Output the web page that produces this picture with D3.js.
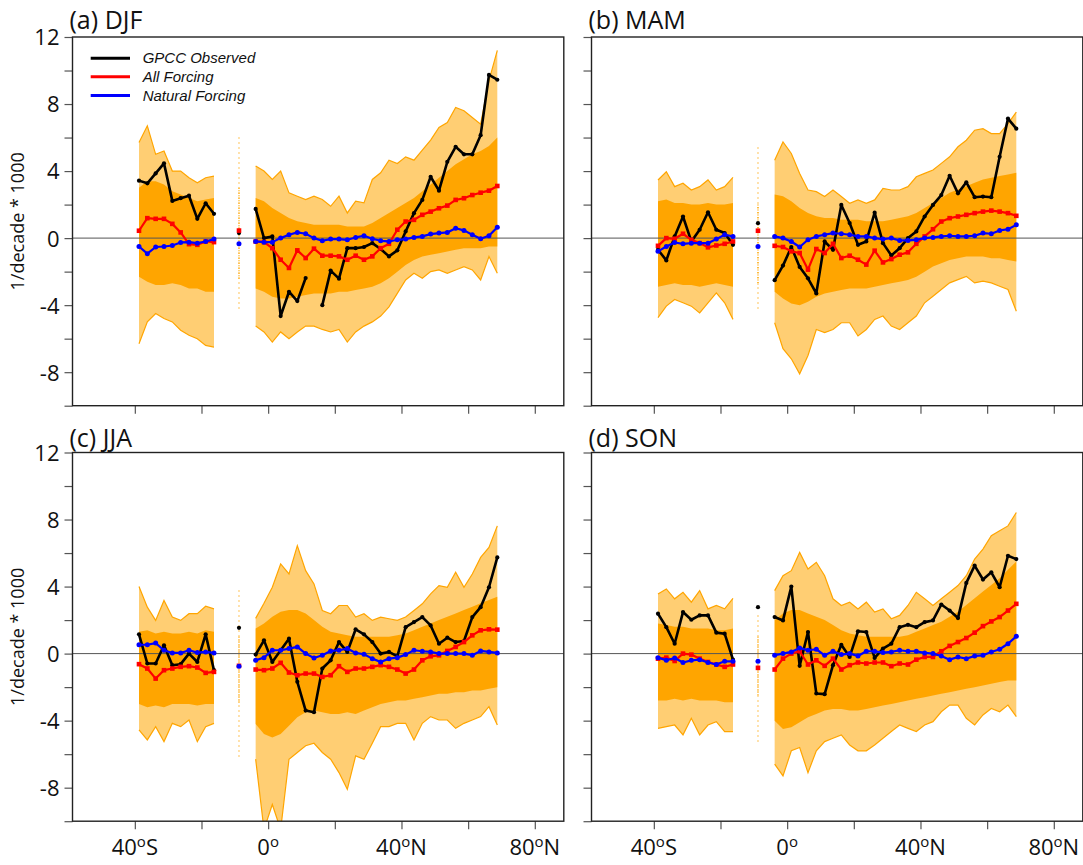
<!DOCTYPE html>
<html><head><meta charset="utf-8">
<script src="https://cdn.jsdelivr.net/npm/d3@7"></script>
<style>body{margin:0;background:#fff}svg{display:block}</style>
</head><body>
<svg id="c" width="1083" height="865"></svg>
<script>
// ---------------- DATA ----------------
// latitude categories: 10 southern points, 1 isolated point, 30 northern points
const latitudes = [-38.75,-36.25,-33.75,-31.25,-28.75,-26.25,-23.75,-21.25,-18.75,-16.25,
  -8.75,
  -3.75,-1.25,1.25,3.75,6.25,8.75,11.25,13.75,16.25,18.75,21.25,23.75,26.25,28.75,31.25,33.75,36.25,38.75,41.25,43.75,46.25,48.75,51.25,53.75,56.25,58.75,61.25,63.75,66.25,68.75];
const yTicks = [-10,-8,-6,-4,-2,0,2,4,6,8,10,12];
const yLabels = [-8,-4,0,4,8,12];
const xTicks = [-40,-20,0,20,40,60,80];
const xLabels = [[-40,"40","S"],[0,"0",""],[40,"40","N"],[80,"80","N"]];
const seasons = ["(a) DJF","(b) MAM","(c) JJA","(d) SON"];
const legendNames = ["GPCC Observed","All Forcing","Natural Forcing"];

// GPCC observed (black)
const obsDJF = [3.43,3.27,3.86,4.46,2.22,2.38,2.53,1.15,2.08,1.45, 0.3,
  1.74,0.0,0.1,-4.65,-3.2,-3.76,-2.38,null,-4.0,-1.94,-2.42,-0.6,-0.6,-0.53,-0.3,-0.65,-1.09,-0.73,0.4,1.49,2.28,3.66,2.83,4.55,5.45,5.0,5.0,6.14,9.74,9.45];
const obsMAM = [-0.69,-1.33,0.1,1.29,-0.2,0.5,1.54,0.5,0.3,-0.4, 0.89,
  -2.51,-1.64,-0.53,-1.72,-2.4,-3.3,-0.2,-0.7,1.98,0.9,-0.4,-0.2,1.52,-0.3,-1.03,-0.6,0.0,0.4,1.29,1.98,2.57,3.72,2.67,3.33,2.44,2.48,2.44,4.85,7.13,6.53];
const obsJJA = [1.15,-0.59,-0.59,0.5,-0.69,-0.63,0.0,-0.5,1.15,-0.99, 1.54,
  -0.06,0.79,-0.5,0.2,0.89,-1.68,-3.4,-3.5,-0.89,-0.4,0.69,0.1,1.45,1.15,0.69,0.0,0.1,-0.16,1.58,1.88,2.18,1.68,0.59,0.95,0.69,0.75,2.18,2.77,3.96,5.74];
const obsSON = [2.38,1.58,0.59,2.48,2.02,2.28,2.28,1.25,1.19,-0.36, 2.77,
  2.18,1.98,4.0,-0.73,1.29,-2.38,-2.42,-0.69,0.53,-0.2,1.33,1.29,-0.26,0.3,0.59,1.58,1.72,1.58,1.88,1.98,2.93,2.57,2.12,4.22,5.25,4.42,4.85,3.96,5.84,5.64];

// All forcing mean (red)
const allDJF = [0.44,1.19,1.15,1.15,0.85,0.34,-0.36,-0.4,-0.2,-0.24, 0.45,
  -0.2,-0.24,-0.6,-1.29,-1.78,-0.73,-1.19,-0.63,-1.05,-1.05,-1.09,-1.29,-1.05,-1.29,-1.09,-0.6,-0.34,0.5,0.99,1.09,1.39,1.58,1.78,1.94,2.28,2.38,2.57,2.71,2.83,3.11];
const allMAM = [-0.46,0.0,-0.04,0.26,-0.1,-0.3,-0.55,-0.44,-0.34,-0.2, 0.44,
  -0.46,-0.53,-0.79,-0.89,-1.88,-0.65,-0.89,-0.34,-1.19,-1.05,-1.29,-1.58,-0.75,-1.45,-1.25,-0.99,-0.85,-0.34,0.1,0.53,0.99,1.19,1.29,1.39,1.49,1.58,1.64,1.58,1.49,1.33];
const allJJA = [-0.63,-0.89,-1.49,-0.99,-0.89,-0.79,-0.75,-0.83,-1.15,-1.09, -0.73,
  -0.95,-0.99,-0.89,-0.55,-1.13,-1.29,-1.19,-1.19,-1.39,-1.29,-0.75,-1.09,-0.89,-0.89,-0.79,-0.69,-0.79,-0.95,-1.19,-0.95,-0.4,-0.16,-0.1,0.16,0.4,0.69,1.09,1.39,1.45,1.43];
const allSON = [-0.3,-0.24,-0.44,0.0,-0.06,-0.3,-0.5,-0.65,-0.79,-0.65, -0.85,
  -0.95,-0.3,0.0,0.14,-0.65,-0.4,-0.73,-0.3,-0.95,-0.69,-0.53,-0.59,-0.53,-0.53,-0.75,-0.59,-0.65,-0.36,-0.2,-0.2,0.14,0.46,0.69,0.93,1.25,1.64,1.92,2.18,2.57,2.97];

// Natural forcing mean (blue)
const natDJF = [-0.5,-0.93,-0.53,-0.5,-0.44,-0.26,-0.24,-0.3,-0.2,-0.06, -0.34,
  -0.2,-0.24,-0.24,0.0,0.2,0.34,0.26,0.0,-0.16,-0.06,-0.06,-0.1,0.04,0.14,-0.04,-0.16,-0.2,-0.1,-0.06,0.04,0.1,0.24,0.3,0.34,0.59,0.46,0.2,-0.04,0.14,0.65];
const natMAM = [-0.79,-0.5,-0.26,-0.34,-0.3,-0.3,-0.3,-0.06,0.2,0.1, -0.5,
  0.1,0.0,-0.2,-0.53,-0.1,0.1,0.2,0.3,0.26,0.2,0.1,0.1,0.0,-0.06,0.0,-0.14,-0.14,-0.1,0.0,0.04,0.1,0.14,0.1,0.1,0.14,0.3,0.26,0.46,0.53,0.79];
const natJJA = [0.53,0.53,0.63,0.2,0.04,0.04,0.2,0.06,0.1,0.04, -0.75,
  -0.4,-0.24,0.2,0.2,0.3,0.4,0.0,-0.26,-0.1,0.16,0.2,0.3,0.04,-0.04,-0.3,-0.5,-0.3,-0.24,-0.06,0.2,0.14,0.1,0.0,0.0,0.0,0.0,-0.1,0.16,0.1,0.04];
const natSON = [-0.24,-0.4,-0.26,-0.53,-0.4,-0.36,-0.53,-0.65,-0.46,-0.46, -0.46,
  -0.1,0.0,0.1,0.34,0.2,0.26,-0.1,0.14,-0.06,0.0,-0.14,0.14,0.14,0.06,0.1,0.2,0.14,0.14,0.04,0.0,-0.14,-0.36,-0.2,-0.3,-0.14,-0.1,0.1,0.26,0.59,1.03];

// Ensemble members (orange): outer maximum / minimum of the member lines
const maxDJF = [5.7,6.7,5.0,5.2,4.0,4.0,3.6,3.3,3.6,3.7, 6.0,
  4.3,4.0,3.5,4.0,2.7,2.5,2.3,2.5,2.3,1.9,2.5,1.5,2.2,2.1,3.5,3.9,4.65,4.45,4.85,4.65,5.25,5.85,6.6,6.9,7.8,7.6,7.2,6.8,9.4,11.2];
const minDJF = [-6.3,-5.0,-4.5,-4.8,-5.0,-5.5,-5.8,-6.0,-6.4,-6.5, -4.3,
  -5.25,-5.6,-6.2,-5.6,-6.0,-5.6,-5.25,-5.25,-5.45,-5.6,-5.45,-6.2,-5.6,-5.25,-5.0,-4.65,-4.1,-3.3,-2.5,-2.1,-2.4,-2.0,-1.9,-2.1,-1.9,-1.7,-1.9,-2.5,-1.1,-2.1];
const maxMAM = [3.47,3.96,3.07,3.27,2.87,3.07,3.47,2.87,3.07,3.62, 5.4,
  4.65,5.74,5.05,3.86,2.87,2.77,2.48,2.87,2.48,2.08,2.28,2.08,2.28,2.97,2.87,2.87,3.07,3.66,3.86,4.06,4.46,4.85,5.45,5.84,6.44,6.53,6.24,6.24,6.83,7.52];
const minMAM = [-4.75,-4.06,-3.66,-3.86,-4.06,-4.46,-3.86,-3.27,-3.86,-4.85, -4.3,
  -5.05,-6.6,-7.2,-8.1,-7.0,-5.45,-5.64,-5.45,-5.05,-5.05,-5.84,-5.45,-4.85,-4.65,-5.25,-5.45,-5.05,-4.65,-3.86,-3.47,-3.07,-2.67,-2.48,-2.28,-2.67,-2.57,-2.67,-2.87,-3.07,-4.36];
const maxJJA = [4.0,2.77,1.98,3.17,2.18,1.98,2.38,2.38,2.83,2.67, 3.76,
  2.1,3.0,3.96,5.35,4.75,6.44,4.95,4.16,2.57,2.38,2.87,2.87,2.18,2.38,1.98,2.18,2.08,1.98,2.18,2.57,2.97,3.56,4.06,3.96,4.85,3.96,4.75,5.74,6.34,7.62];
const minJJA = [-4.55,-5.15,-4.36,-5.25,-4.16,-4.36,-3.96,-5.25,-4.36,-4.16, -6.24,
  -6.3,-10.5,-9.0,-10.5,-6.3,-5.9,-5.5,-5.35,-5.9,-6.3,-7.1,-8.1,-6.1,-6.3,-5.35,-4.36,-4.36,-4.16,-4.16,-5.15,-4.16,-3.76,-3.96,-3.96,-4.46,-4.16,-3.96,-3.76,-3.17,-4.26];
const maxSON = [3.56,3.86,3.27,3.66,3.07,3.76,2.67,2.87,2.67,3.3, 2.28,
  3.76,4.65,4.95,6.04,5.05,5.45,4.65,3.27,2.87,3.07,2.67,3.07,2.48,2.67,2.08,2.28,2.87,3.66,3.27,2.87,3.27,3.66,4.06,4.65,5.64,6.24,7.03,7.33,7.62,8.42];
const minSON = [-4.46,-4.36,-4.26,-4.85,-3.86,-4.85,-4.26,-4.06,-4.65,-4.65, -5.45,
  -6.6,-7.3,-5.8,-5.6,-7.1,-5.8,-5.25,-5.05,-4.85,-5.45,-5.8,-5.8,-5.45,-5.05,-4.65,-4.26,-4.46,-4.65,-4.26,-4.06,-3.47,-3.07,-3.07,-3.86,-4.26,-3.66,-3.27,-3.47,-3.07,-3.76];

// Ensemble members (orange): edges of the dense core where the member lines overlap
const coreHiDJF = [3.0,3.4,3.4,3.2,2.8,2.6,2.4,2.2,2.3,2.4, 3.0,
  2.4,2.2,1.8,1.5,1.2,1.0,0.9,0.8,0.8,0.8,0.8,0.7,0.7,0.7,0.9,1.2,1.5,1.8,2.1,2.4,2.8,3.2,3.6,4.0,4.4,4.7,5.0,5.2,5.5,6.0];
const coreLoDJF = [-2.3,-2.6,-2.8,-2.8,-2.7,-2.8,-3.0,-3.0,-3.2,-3.2, -2.5,
  -3.0,-3.2,-3.5,-3.6,-3.6,-3.5,-3.4,-3.3,-3.3,-3.3,-3.2,-3.2,-3.1,-3.0,-2.9,-2.7,-2.4,-2.0,-1.6,-1.3,-1.1,-1.0,-0.9,-0.8,-0.7,-0.6,-0.6,-0.6,-0.5,-0.5];
const coreHiMAM = [2.2,2.3,2.1,2.1,2.0,2.0,2.1,2.0,2.0,2.1, 2.0,
  2.6,2.5,2.2,1.8,1.5,1.3,1.2,1.2,1.1,1.1,1.1,1.0,1.0,1.0,1.1,1.2,1.3,1.5,1.8,2.1,2.4,2.7,2.9,3.1,3.3,3.5,3.6,3.7,3.8,3.9];
const coreLoMAM = [-2.9,-2.8,-2.7,-2.8,-2.8,-2.9,-2.8,-2.7,-2.8,-2.9, -2.8,
  -3.2,-3.6,-3.9,-4.0,-3.8,-3.5,-3.3,-3.2,-3.1,-3.0,-3.0,-3.0,-2.9,-2.8,-2.7,-2.6,-2.5,-2.3,-2.0,-1.7,-1.5,-1.3,-1.2,-1.1,-1.1,-1.1,-1.2,-1.2,-1.3,-1.4];
const coreHiJJA = [1.3,1.4,1.2,1.3,1.2,1.2,1.3,1.2,1.4,1.3, 1.0,
  1.5,1.8,2.2,2.5,2.6,2.6,2.4,2.0,1.6,1.3,1.2,1.1,1.0,1.0,1.0,1.0,1.0,1.1,1.2,1.4,1.6,1.8,2.0,2.2,2.4,2.6,2.8,3.0,3.2,3.4];
const coreLoJJA = [-3.0,-3.2,-3.1,-3.2,-3.0,-3.0,-3.0,-3.1,-3.0,-3.0, -3.0,
  -4.2,-4.8,-5.0,-4.8,-4.3,-3.8,-3.5,-3.4,-3.5,-3.6,-3.6,-3.5,-3.6,-3.4,-3.2,-3.0,-2.9,-2.8,-2.8,-2.7,-2.6,-2.5,-2.4,-2.4,-2.3,-2.3,-2.2,-2.2,-2.1,-2.0];
const coreHiSON = [1.8,1.7,1.6,1.6,1.5,1.5,1.5,1.4,1.4,1.5, 1.0,
  2.0,2.4,2.6,2.6,2.4,2.2,2.0,1.7,1.4,1.2,1.1,1.0,1.0,1.0,1.0,1.0,1.1,1.3,1.5,1.7,1.9,2.2,2.5,2.9,3.3,3.7,4.1,4.5,5.0,5.5];
const coreLoSON = [-2.8,-2.8,-2.7,-2.8,-2.7,-2.8,-2.8,-2.8,-2.9,-2.9, -2.5,
  -4.0,-4.5,-4.4,-4.1,-3.8,-3.6,-3.4,-3.3,-3.3,-3.4,-3.4,-3.3,-3.2,-3.1,-3.0,-2.9,-2.8,-2.7,-2.6,-2.5,-2.4,-2.3,-2.2,-2.1,-2.0,-1.9,-1.8,-1.7,-1.6,-1.6];

const panelData = [
  {obs:obsDJF, all:allDJF, nat:natDJF, max:maxDJF, min:minDJF, chi:coreHiDJF, clo:coreLoDJF},
  {obs:obsMAM, all:allMAM, nat:natMAM, max:maxMAM, min:minMAM, chi:coreHiMAM, clo:coreLoMAM},
  {obs:obsJJA, all:allJJA, nat:natJJA, max:maxJJA, min:minJJA, chi:coreHiJJA, clo:coreLoJJA},
  {obs:obsSON, all:allSON, nat:natSON, max:maxSON, min:minSON, chi:coreHiSON, clo:coreLoSON}
];

// ---------------- LAYOUT ----------------
const svg = d3.select("#c");
const PW = 491.3, PH = 368.7;
const layout = [
  {x0:72.5, y0:37, tb:28.5, ylab:true, xlab:false},
  {x0:591.5, y0:37, tb:28.5, ylab:false, xlab:false},
  {x0:72.5, y0:452.5, tb:446.5, ylab:true, xlab:true},
  {x0:591.5, y0:452.5, tb:446.5, ylab:false, xlab:true}
];
const ORANGE = "#FFA500";
const segS = d3.range(0,10), segN = d3.range(11,41), ISO = 10;
const FONT = "'Open Sans', sans-serif";

layout.forEach((L, pi) => {
  const D = panelData[pi];
  const x = d3.scaleLinear().domain([-58.7, 88.7]).range([L.x0, L.x0 + PW]);
  const y = d3.scaleLinear().domain([-10, 12]).range([L.y0 + PH, L.y0]);
  const g = svg.append("g");
  const clipId = "clip" + pi;
  svg.append("clipPath").attr("id", clipId).append("rect")
    .attr("x", L.x0).attr("y", L.y0).attr("width", PW).attr("height", PH);
  const plot = g.append("g").attr("clip-path", `url(#${clipId})`);

  // orange ensemble envelope
  [segS, segN].forEach(seg => {
    const outer = d3.area().x(i => x(latitudes[i])).y0(i => y(D.min[i])).y1(i => y(D.max[i]));
    plot.append("path").attr("d", outer(seg)).attr("fill", ORANGE).attr("fill-opacity", 0.55);
    const core = d3.area().x(i => x(latitudes[i])).y0(i => y(D.clo[i])).y1(i => y(D.chi[i]));
    plot.append("path").attr("d", core(seg)).attr("fill", ORANGE);
    ["max","min"].forEach(k => {
      const ln = d3.line().x(i => x(latitudes[i])).y(i => y(D[k][i]));
      plot.append("path").attr("d", ln(seg)).attr("fill", "none")
        .attr("stroke", ORANGE).attr("stroke-width", 1.2);
    });
  });
  // isolated latitude: members appear as dots
  plot.append("line").attr("x1", x(latitudes[ISO])).attr("x2", x(latitudes[ISO]))
    .attr("y1", y(D.max[ISO])).attr("y2", y(D.min[ISO]))
    .attr("stroke", ORANGE).attr("stroke-width", 1.3).attr("stroke-dasharray", "1,4");
  plot.append("line").attr("x1", x(latitudes[ISO])).attr("x2", x(latitudes[ISO]))
    .attr("y1", y(D.chi[ISO])).attr("y2", y(D.clo[ISO]))
    .attr("stroke", ORANGE).attr("stroke-width", 1.3).attr("stroke-dasharray", "1,1.5");

  // zero line
  plot.append("line").attr("x1", L.x0).attr("x2", L.x0 + PW).attr("y1", y(0)).attr("y2", y(0))
    .attr("stroke", "#555").attr("stroke-width", 1);

  // series lines
  const series = [
    {k:"obs", c:"#000", w:2.6, m:"circle", r:2.1},
    {k:"all", c:"#ff0000", w:2.2, m:"square", r:2.3},
    {k:"nat", c:"#0000ff", w:2.2, m:"circle", r:2.5}
  ];
  series.forEach(s => {
    const vals = D[s.k];
    const ln = d3.line().defined(i => vals[i] !== null).x(i => x(latitudes[i])).y(i => y(vals[i]));
    [segS, segN].forEach(seg => {
      plot.append("path").attr("d", ln(seg)).attr("fill", "none")
        .attr("stroke", s.c).attr("stroke-width", s.w).attr("stroke-linejoin", "round");
    });
    const pts = d3.range(0, 41).filter(i => vals[i] !== null);
    if (s.m === "circle") {
      plot.selectAll(null).data(pts).join("circle")
        .attr("cx", i => x(latitudes[i])).attr("cy", i => y(vals[i])).attr("r", s.r).attr("fill", s.c);
    } else {
      plot.selectAll(null).data(pts).join("rect")
        .attr("x", i => x(latitudes[i]) - s.r).attr("y", i => y(vals[i]) - s.r)
        .attr("width", 2 * s.r).attr("height", 2 * s.r).attr("fill", s.c);
    }
  });

  // axes
  const ya = d3.axisLeft(y).tickValues(yTicks).tickSize(8).tickPadding(5)
    .tickFormat(v => (L.ylab && yLabels.includes(v)) ? String(v) : "");
  const yg = g.append("g").attr("transform", `translate(${L.x0},0)`).call(ya);
  const xa = d3.axisBottom(x).tickValues(xTicks).tickSize(8).tickFormat("");
  const xg = g.append("g").attr("transform", `translate(0,${L.y0 + PH})`).call(xa);
  [yg, xg].forEach(a => {
    a.select(".domain").remove();
    a.selectAll(".tick line").attr("stroke", "#555").attr("stroke-width", 1.2);
    a.selectAll("text").attr("fill", "#111").style("font-family", FONT).style("font-size", "22px");
  });
  yg.selectAll("text").attr("dy", "0.36em");

  if (L.xlab) {
    xLabels.forEach(([v, num, hem]) => {
      const t = g.append("text").attr("x", x(v)).attr("y", L.y0 + PH + 34)
        .attr("text-anchor", "middle").attr("fill", "#111")
        .style("font-family", FONT).style("font-size", "22px");
      t.append("tspan").text(num);
      t.append("tspan").attr("dy", -8).style("font-size", "15px").text("o");
      if (hem) t.append("tspan").attr("dy", 8).text(hem);
    });
  }

  // frame
  g.append("rect").attr("x", L.x0).attr("y", L.y0).attr("width", PW).attr("height", PH)
    .attr("fill", "none").attr("stroke", "#222").attr("stroke-width", 1.4);

  // title
  g.append("text").attr("x", L.x0 - 3).attr("y", L.tb).text(seasons[pi])
    .attr("fill", "#111").style("font-family", FONT).style("font-size", "25px");

  // y label
  if (L.ylab) {
    const cy = L.y0 + PH / 2;
    g.append("text").attr("transform", `translate(24,${cy}) rotate(-90)`)
      .attr("text-anchor", "middle").attr("fill", "#111")
      .style("font-family", FONT).style("font-size", "18px")
      .text("1/decade * 1000");
  }

  // legend (panel a)
  if (pi === 0) {
    const cols = ["#000", "#ff0000", "#0000ff"];
    const ly = [58.3, 76.8, 95.6];
    legendNames.forEach((n, i) => {
      g.append("line").attr("x1", 90.7).attr("x2", 130).attr("y1", ly[i]).attr("y2", ly[i])
        .attr("stroke", cols[i]).attr("stroke-width", 3);
      g.append("text").attr("x", 142.7).attr("y", ly[i] + 5).text(n)
        .attr("fill", "#111").style("font-family", "'Liberation Sans', Arial, sans-serif")
        .style("font-style", "italic").style("font-size", "15px");
    });
  }
});
</script>
</body></html>
